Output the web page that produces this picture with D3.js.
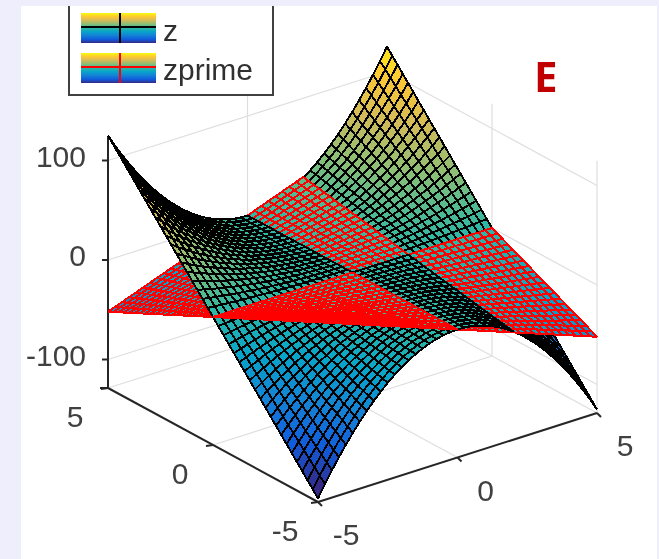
<!DOCTYPE html>
<html><head><meta charset="utf-8">
<style>html,body{margin:0;padding:0;background:#eeeefc;overflow:hidden}svg{display:block;filter:blur(0.7px)}</style>
<script src="https://cdnjs.cloudflare.com/ajax/libs/d3/7.8.5/d3.min.js"></script>
</head><body>
<script>
// Mesh lines (about 41 lines per side, range -5..5)
const gridX = [-5,-4.75,-4.5,-4.25,-4,-3.75,-3.5,-3.25,-3,-2.75,-2.5,-2.25,-2,-1.75,-1.5,-1.25,-1,-0.75,-0.5,-0.25,0,0.25,0.5,0.75,1,1.25,1.5,1.75,2,2.25,2.5,2.75,3,3.25,3.5,3.75,4,4.25,4.5,4.75,5];
const gridY = [-5,-4.75,-4.5,-4.25,-4,-3.75,-3.5,-3.25,-3,-2.75,-2.5,-2.25,-2,-1.75,-1.5,-1.25,-1,-0.75,-0.5,-0.25,0,0.25,0.5,0.75,1,1.25,1.5,1.75,2,2.25,2.5,2.75,3,3.25,3.5,3.75,4,4.25,4.5,4.75,5];
// Height of each surface along its far edge (y = 5), one value per gridX entry.
// Both surfaces are ruled in y: straight from this edge through 0 to its mirror at y = -5.
const zFarEdge = [125,112.8,101.25,90.3,80,70.3,61.25,52.8,45,37.8,31.25,25.3,20,15.3,11.25,7.8,5,2.8,1.25,0.3,0,0.3,1.25,2.8,5,7.8,11.25,15.3,20,25.3,31.25,37.8,45,52.8,61.25,70.3,80,90.3,101.25,112.8,125];
const zprimeFarEdge = [-52,-49.4,-46.8,-44.2,-41.6,-39,-36.4,-33.8,-31.2,-28.6,-26,-23.4,-20.8,-18.2,-15.6,-13,-10.4,-7.8,-5.2,-2.6,0,2.6,5.2,7.8,10.4,13,15.6,18.2,20.8,23.4,26,28.6,31.2,33.8,36.4,39,41.6,44.2,46.8,49.4,52];
const xTicks = [-5,0,5];
const yTicks = [-5,0,5];
const zTicks = [-100,0,100];
const seriesNames = ["z","zprime"];
const seriesEdges = ["#000000","#ff0000"];
const cStops = [0,0.125,0.25,0.375,0.5,0.625,0.75,0.875,1];
const cColors = ["#352a87","#0f5cdd","#1481d6","#06a4ca","#2eb7a4","#87bf77","#d1bb59","#fec832","#f9fb0e"];

const W=659,H=559;
const colorT=d3.scaleLinear().domain(cStops).range(cColors).clamp(true);
const clim=d3.scaleLinear().domain([-125,125]).range([0,1]);
// oblique axis scales: screen offset contributed by each data coordinate
const xToSX=d3.scaleLinear().domain([-5,5]).range([318,597]);
const xToSY=d3.scaleLinear().domain([-5,5]).range([502,413]);
const yToSX=d3.scaleLinear().domain([-5,5]).range([0,-210]);
const yToSY=d3.scaleLinear().domain([-5,5]).range([0,-114]);
const zToSY=d3.scaleLinear().domain([-100,100]).range([-28.5,-227.5]);
const P=(x,y,z)=>[xToSX(x)+yToSX(y), xToSY(x)+yToSY(y)+zToSY(z)];
const floorP=(x,y)=>[xToSX(x)+yToSX(y), xToSY(x)+yToSY(y)];
const depth=(x,y,z)=>-19.1*x-25.3*y+0.46*z;

const svg=d3.select("body").append("svg").attr("width",W).attr("height",H);
svg.append("rect").attr("width",W).attr("height",H).attr("fill","#eeeefc");
svg.append("rect").attr("x",21).attr("y",6).attr("width",636).attr("height",H).attr("fill","#fff");

// grid
const gridCol="#dedede";
const gg=svg.append("g").attr("stroke",gridCol).attr("stroke-width",1.2).attr("fill","none");
const seg=(g,a,b)=>g.append("line").attr("x1",a[0]).attr("y1",a[1]).attr("x2",b[0]).attr("y2",b[1]);
const wallTop=125;
// floor and wall levels, back walls at y=5 and x=5
const zLevels=zTicks;
zLevels.forEach(z=>{
  seg(gg,P(-5,5,z),P(5,5,z));
  seg(gg,P(5,5,z),P(5,-5,z));
});
seg(gg,floorP(-5,5),floorP(5,5));
seg(gg,floorP(5,5),floorP(5,-5));
[[0,5],[5,5],[5,0],[5,-5]].forEach(([x,y])=>{
  const f=floorP(x,y);
  seg(gg,f,[f[0],P(x,y,wallTop)[1]]);
});
seg(gg,floorP(0,-5),floorP(0,5));
seg(gg,floorP(-5,0),floorP(5,0));

// axes
const axCol="#262626";
const ax=svg.append("g").attr("stroke",axCol).attr("stroke-width",2).attr("fill","none");
seg(ax,floorP(-5,5),[floorP(-5,5)[0],137]);
seg(ax,floorP(-5,5),floorP(-5,-5));
seg(ax,floorP(-5,-5),floorP(5,-5));
zTicks.forEach(z=>{const p=P(-5,5,z);seg(ax,[p[0]-6,p[1]],p);});
seg(ax,[floorP(-5,5)[0]-8,floorP(-5,5)[1]],floorP(-5,5));
yTicks.forEach(y=>{const p=floorP(-5,y);seg(ax,[p[0]-7,p[1]+1],p);});
xTicks.forEach(x=>{const p=floorP(x,-5);seg(ax,p,[p[0]+4,p[1]+4]);});

// surfaces, painter-sorted together
const faces=[];
[zFarEdge,zprimeFarEdge].forEach((edge,k)=>{
  const val=(i,j)=>edge[i]*gridY[j]/5;
  for(let i=0;i<gridX.length-1;i++)for(let j=0;j<gridY.length-1;j++){
    const c=[[i,j],[i+1,j],[i+1,j+1],[i,j+1]];
    const pts=c.map(([a,b])=>P(gridX[a],gridY[b],val(a,b)));
    const d=d3.mean(c,([a,b])=>depth(gridX[a],gridY[b],val(a,b)));
    faces.push({k,pts,d,v:val(i,j)});
  }
});
faces.sort((a,b)=>d3.ascending(a.d,b.d));
const line=d3.line().curve(d3.curveLinearClosed);
svg.append("g").attr("shape-rendering","crispEdges").selectAll("path").data(faces).join("path")
  .attr("d",f=>line(f.pts))
  .attr("fill",f=>colorT(clim(f.v)))
  .attr("stroke",f=>seriesEdges[f.k])
  .attr("stroke-width",2)
  .attr("stroke-linejoin","bevel");

// tick labels
const tf="'Liberation Sans',Arial,sans-serif";
const lab=svg.append("g").attr("fill","#404040").attr("font-family",tf).attr("font-size",30);
zTicks.forEach(z=>{const p=P(-5,5,z);lab.append("text").attr("x",p[0]-22).attr("y",p[1]+6).attr("text-anchor","end").text(z);});
yTicks.forEach(y=>{const p=floorP(-5,y);lab.append("text").attr("x",p[0]-33).attr("y",p[1]+39).attr("text-anchor","middle").text(y);});
xTicks.forEach(x=>{const p=floorP(x,-5);lab.append("text").attr("x",p[0]+28).attr("y",p[1]+43).attr("text-anchor","middle").text(x);});

// legend
const defs=svg.append("defs");
const grad=defs.append("linearGradient").attr("id","cm").attr("x1",0).attr("y1",1).attr("x2",0).attr("y2",0);
cStops.forEach((s,i)=>grad.append("stop").attr("offset",s).attr("stop-color",cColors[i]));
const lg=svg.append("g");
lg.append("rect").attr("x",69).attr("y",-6).attr("width",204).attr("height",101).attr("fill","#fff").attr("stroke","#404040").attr("stroke-width",2);
svg.append("rect").attr("x",0).attr("y",0).attr("width",W).attr("height",6).attr("fill","#eeeefc");
seriesNames.forEach((n,i)=>{
  const y0=13+i*40;
  lg.append("rect").attr("x",81).attr("y",y0).attr("width",75).attr("height",30).attr("fill","url(#cm)");
  lg.append("line").attr("x1",81).attr("x2",156).attr("y1",y0+14).attr("y2",y0+14).attr("stroke",seriesEdges[i]).attr("stroke-width",2);
  lg.append("line").attr("x1",120).attr("x2",120).attr("y1",y0).attr("y2",y0+30).attr("stroke",seriesEdges[i]).attr("stroke-width",2);
  lg.append("text").attr("x",163).attr("y",41+i*39).attr("font-family",tf).attr("font-size",30).attr("fill","#303030").text(n);
});

// panel letter
svg.append("text").attr("x",534).attr("y",92).attr("font-family","'Open Sans',sans-serif").attr("font-weight",700).attr("font-size",42).attr("fill","#c00000").text("E");
</script>
</body></html>
